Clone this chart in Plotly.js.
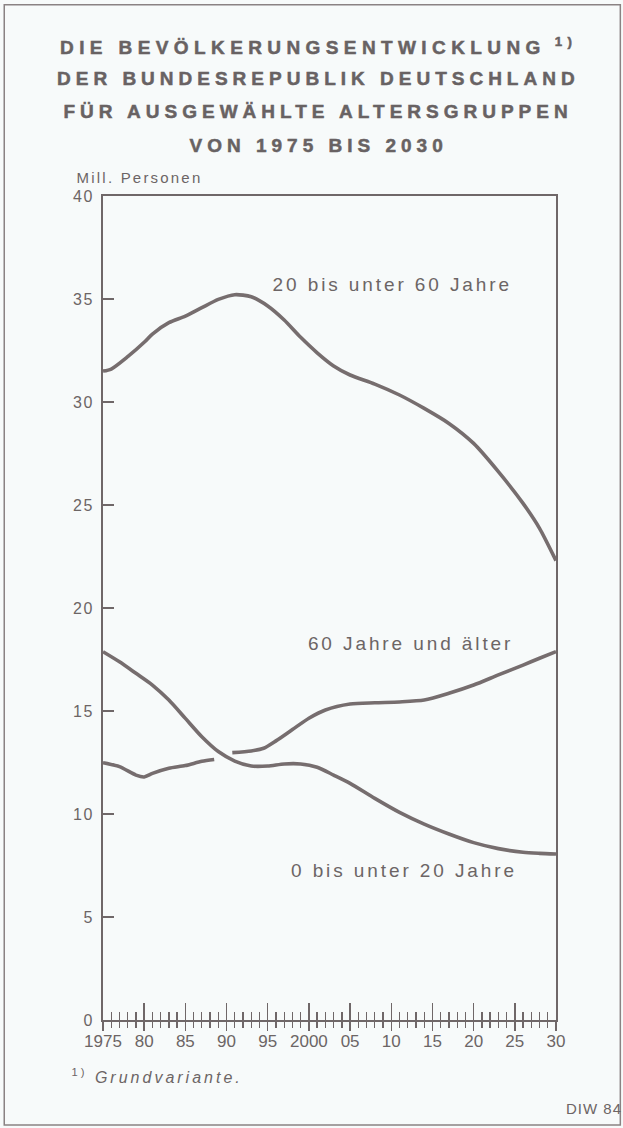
<!DOCTYPE html>
<html>
<head>
<meta charset="utf-8">
<script src="https://cdn.plot.ly/plotly-3.0.1.min.js"></script>
<style>
html,body{margin:0;padding:0;background:#f7fafa;}
#chart{width:623px;height:1128px;}
g.annotation[data-index="0"] text, g.annotation[data-index="1"] text,
g.annotation[data-index="2"] text, g.annotation[data-index="3"] text{letter-spacing:5px;stroke:#686263;stroke-width:0.5px;}
g.annotation[data-index="0"] text{letter-spacing:5.4px;}
g.annotation[data-index="4"] text{letter-spacing:2.2px;}
g.annotation[data-index="5"] text, g.annotation[data-index="6"] text,
g.annotation[data-index="7"] text{letter-spacing:2.9px;}
g.annotation[data-index="8"] text{letter-spacing:3px;}
g.annotation[data-index="9"] text{letter-spacing:1px;}
.ytick text{letter-spacing:1.5px;}
</style>
</head>
<body>
<div id="chart"></div>
<script>
// Series: 20 bis unter 60 Jahre (Mill. Personen)
const yearsWork = [1975,1976,1978,1980,1981,1983,1985,1987,1989,1991,1993,1995,1997,1999,2001,2003,2005,2008,2011,2014,2017,2020,2023,2026,2028,2030];
const valWork   = [31.5,31.6,32.2,32.9,33.3,33.85,34.17,34.58,34.98,35.21,35.11,34.66,33.98,33.14,32.39,31.75,31.31,30.87,30.34,29.69,28.96,27.99,26.62,25.08,23.87,22.3];

// Series: 60 Jahre und älter (gap where the other line crosses)
const yearsOld = [1975,1977,1979,1980,1981,1983,1985,1987,1988.5,1989.6,1990.7,1993,1994.5,1996,1998,2000,2002,2005,2008,2011,2014,2017,2020,2023,2026,2028,2030];
const valOld   = [12.49,12.30,11.89,11.8,11.97,12.22,12.35,12.56,12.65,null,12.98,13.06,13.19,13.55,14.1,14.65,15.05,15.34,15.40,15.44,15.53,15.86,16.26,16.75,17.23,17.56,17.88];

// Series: 0 bis unter 20 Jahre
const yearsYoung = [1975,1977,1979,1981,1983,1985,1987,1989,1991,1993,1995,1997,1999,2001,2003,2005,2008,2011,2014,2017,2020,2023,2026,2028,2030];
const valYoung   = [17.88,17.39,16.83,16.26,15.53,14.64,13.75,13.03,12.57,12.33,12.33,12.43,12.43,12.27,11.89,11.49,10.76,10.08,9.51,9.03,8.61,8.32,8.14,8.09,8.06];

// Tick labels
const xTickVals = [1975,1980,1985,1990,1995,2000,2005,2010,2015,2020,2025,2030];
const xTickText = ['1975','80','85','90','95','2000','05','10','15','20','25','30'];
const yTickVals = [0,5,10,15,20,25,30,35,40];

// Texts
const titleLines = ['DIE BEVÖLKERUNGSENTWICKLUNG<sup> 1)</sup>','DER BUNDESREPUBLIK DEUTSCHLAND','FÜR AUSGEWÄHLTE ALTERSGRUPPEN','VON 1975 BIS 2030'];
const seriesNames = ['20 bis unter 60 Jahre','60 Jahre und älter','0 bis unter 20 Jahre'];
const unitLabel = 'Mill. Personen';
const footnote = '<sup>1)</sup> <i>Grundvariante.</i>';
const source = 'DIW 84';

const lineCol = '#766d6e';
const axCol = '#6f6768';
const txtCol = '#6c6565';
const sans = '"Liberation Sans", Arial, sans-serif';

const mk = (x,y,name)=>({x:x,y:y,name:name,type:'scatter',mode:'lines',connectgaps:false,
  line:{color:lineCol,width:3.6,shape:'spline',smoothing:0.7},hoverinfo:'skip',showlegend:false});

const traces = [
  mk(yearsWork,valWork,seriesNames[0]),
  mk(yearsOld,valOld,seriesNames[1]),
  mk(yearsYoung,valYoung,seriesNames[2]),
  {x:[],y:[],type:'scatter',mode:'lines',xaxis:'x2',yaxis:'y',showlegend:false,hoverinfo:'skip'}
];

const titleY = [1.182,1.142,1.102,1.061];
const annotations = titleLines.map((t,i)=>({
  text:'<b>'+t+'</b>', xref:'paper', yref:'paper', x:0.475, y:titleY[i], xanchor:'center', yanchor:'middle',
  showarrow:false, font:{family:sans, size:19, color:'#686263', weight:'bold'}
}));
annotations.push({text:unitLabel, xref:'paper', yref:'paper', x:0.0795, y:1.023, xanchor:'center', yanchor:'middle',
  showarrow:false, font:{family:sans, size:15, color:txtCol}});
const labelPos = [[2010.1,35.68],[2012.4,18.3],[2011.5,7.28]];
seriesNames.forEach((n,i)=>annotations.push({text:n, xref:'x', yref:'y', x:labelPos[i][0], y:labelPos[i][1],
  xanchor:'center', yanchor:'middle', showarrow:false, font:{family:sans, size:19, color:txtCol}}));
annotations.push({text:footnote, xref:'paper', yref:'paper', x:0.12, y:-0.068, xanchor:'center', yanchor:'middle',
  showarrow:false, font:{family:sans, size:16, color:txtCol}});
annotations.push({text:source, xref:'paper', yref:'paper', x:1.083, y:-0.107, xanchor:'center', yanchor:'middle',
  showarrow:false, font:{family:sans, size:15, color:txtCol}});

const layout = {
  width:623, height:1128,
  margin:{l:103, r:67, t:196, b:108},
  paper_bgcolor:'#f7fafa', plot_bgcolor:'#f7fafa',
  showlegend:false,
  xaxis:{range:[1975,2030], showgrid:false, zeroline:false, showline:true, mirror:true,
    linecolor:axCol, linewidth:2, ticks:'inside', ticklen:17, tickwidth:1.5, tickcolor:axCol,
    tickmode:'array', tickvals:xTickVals, ticktext:xTickText,
    minor:{dtick:1, tick0:1975, ticks:'inside', ticklen:8, tickwidth:1.3, tickcolor:axCol},
    tickfont:{family:sans, size:17, color:txtCol}, ticklabelstandoff:5, fixedrange:true},
  xaxis2:{range:[1975,2030], overlaying:'x', anchor:'y', side:'bottom', showgrid:false, zeroline:false,
    showline:false, ticks:'outside', ticklen:10, tickwidth:1.5, tickcolor:axCol, showticklabels:false,
    tickmode:'array', tickvals:xTickVals,
    minor:{dtick:1, tick0:1975, ticks:'outside', ticklen:7, tickwidth:1.3, tickcolor:axCol}},
  yaxis:{range:[0,40], showgrid:false, zeroline:false, showline:true, mirror:true,
    linecolor:axCol, linewidth:2, ticks:'inside', ticklen:11, tickwidth:1.5, tickcolor:axCol,
    tickmode:'array', tickvals:yTickVals, tickfont:{family:sans, size:16, color:txtCol},
    ticklabelstandoff:4, fixedrange:true},
  annotations:annotations,
  shapes:[{type:'rect', xref:'paper', yref:'paper', x0:-0.218, x1:1.142, y0:-0.1274, y1:1.232,
    line:{color:'#8a8283', width:1.5}, fillcolor:'rgba(0,0,0,0)', layer:'below'}]
};

Plotly.newPlot('chart', traces, layout, {staticPlot:true, displayModeBar:false});
</script>
</body>
</html>
